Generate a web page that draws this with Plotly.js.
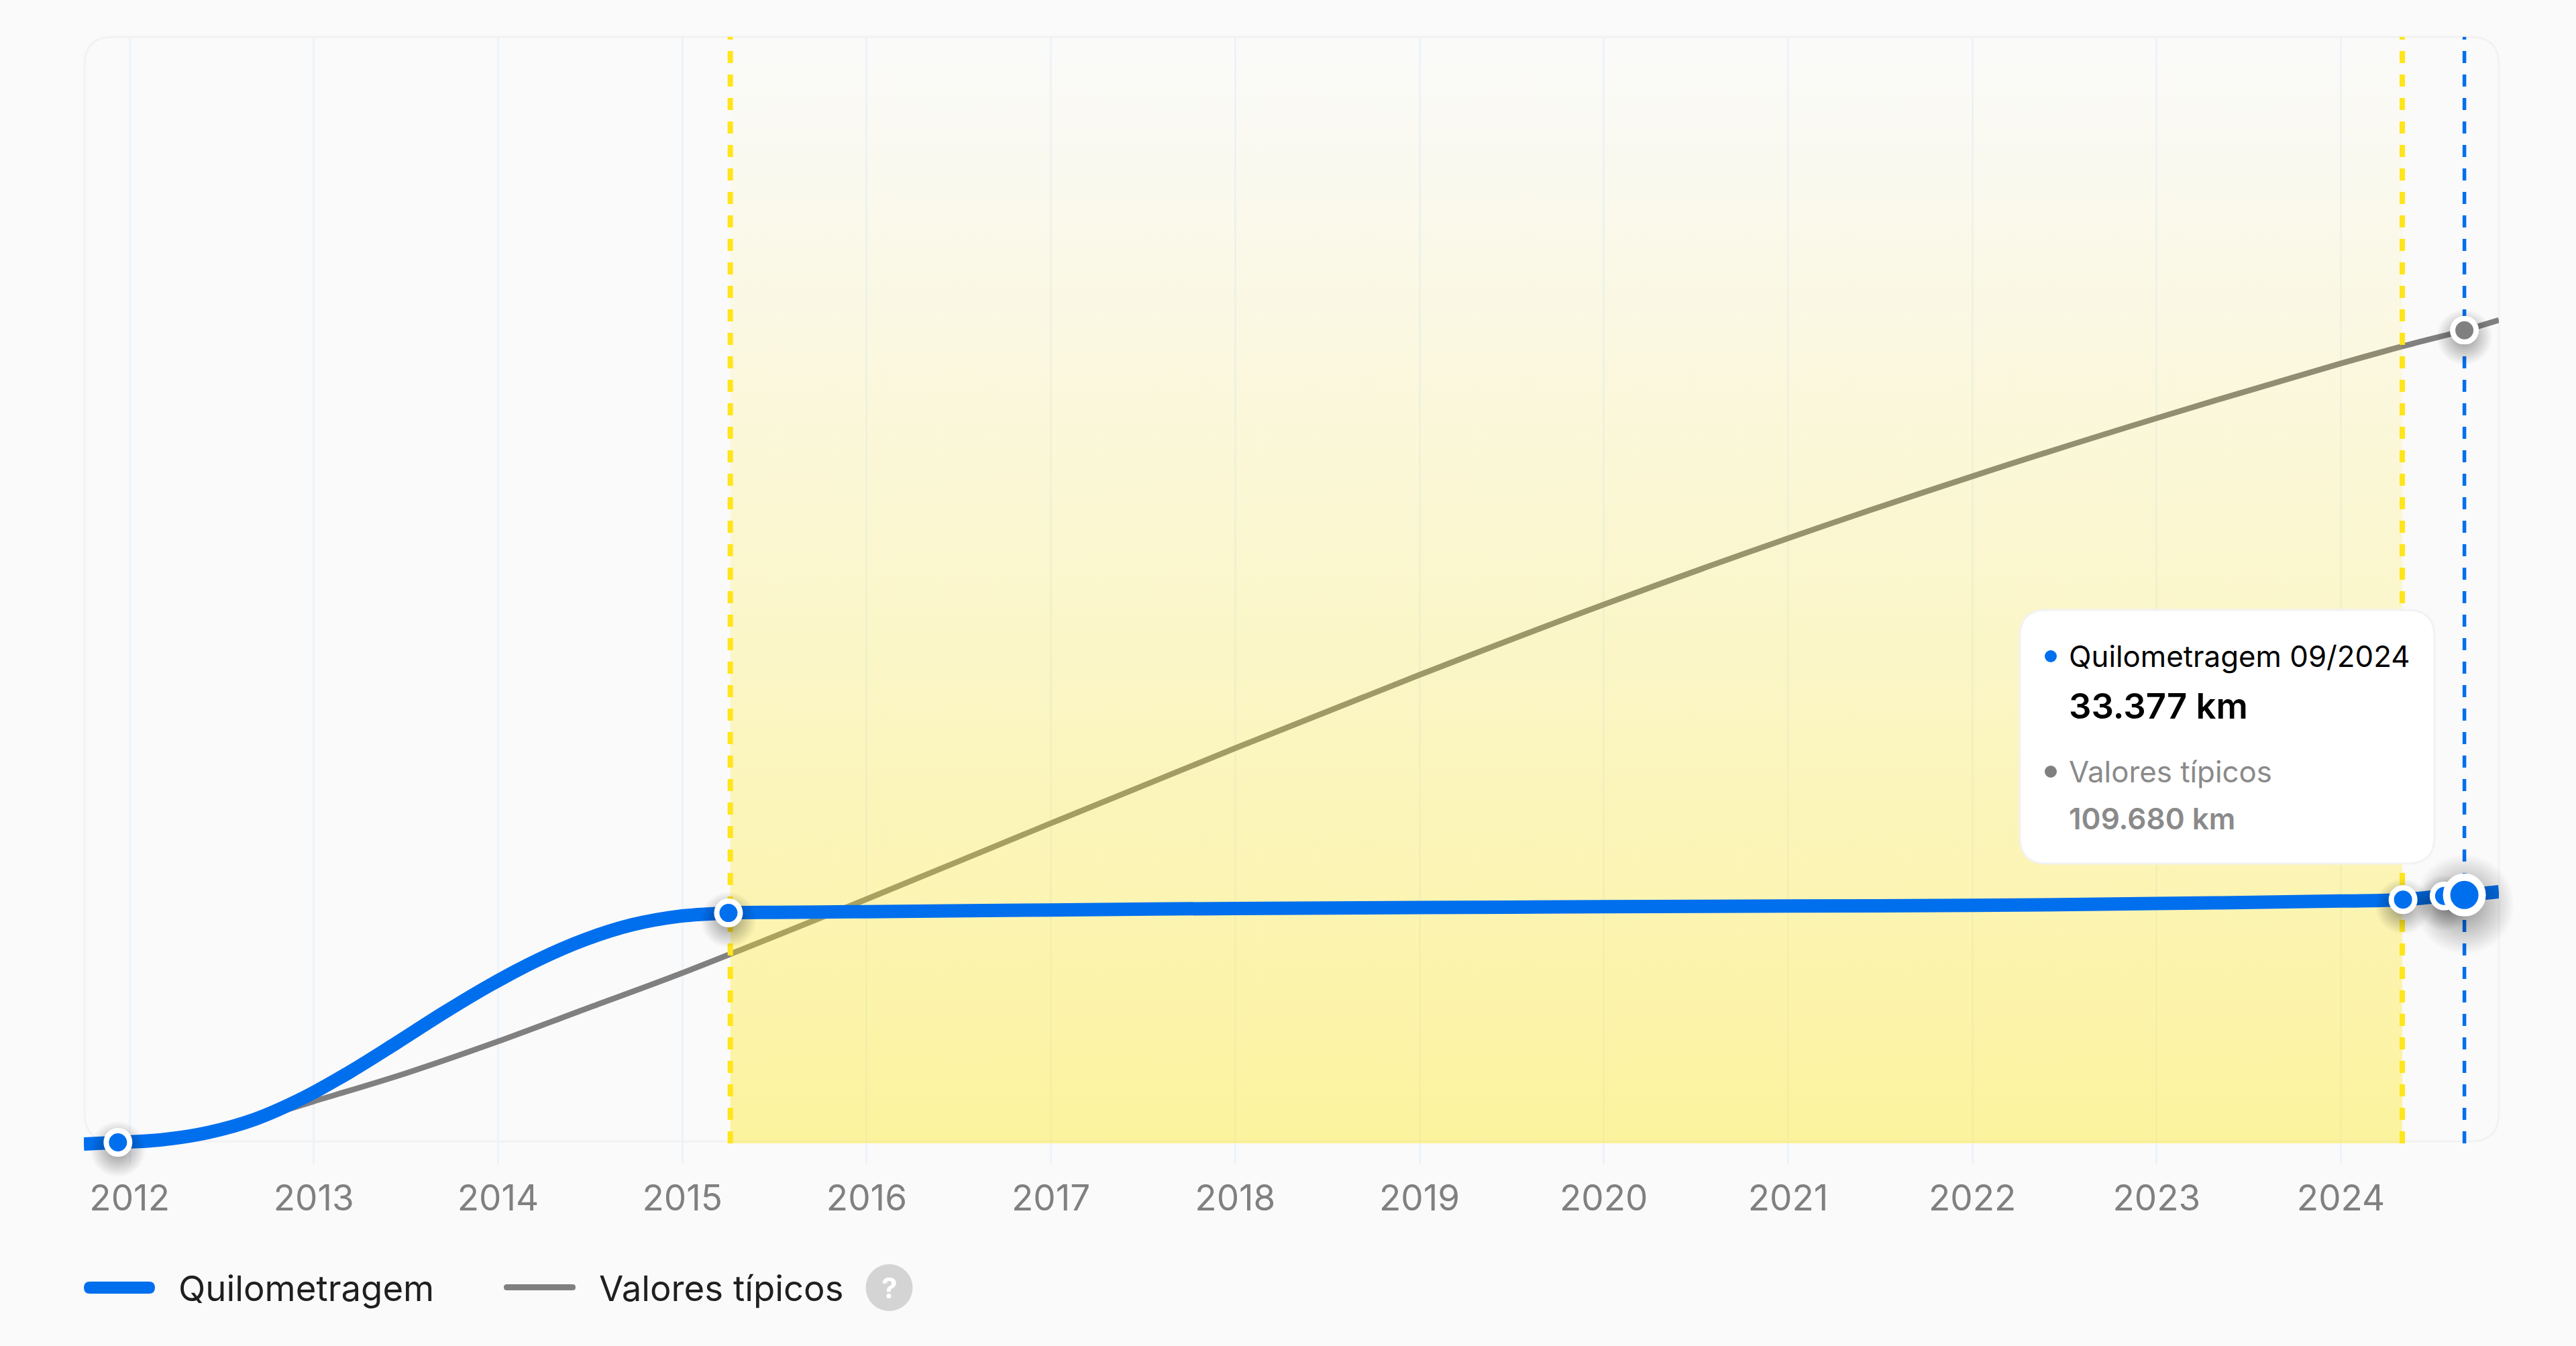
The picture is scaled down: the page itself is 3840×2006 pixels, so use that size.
<!DOCTYPE html>
<html lang="pt">
<head>
<meta charset="utf-8">
<script src="https://cdn.plot.ly/plotly-3.0.1.min.js"></script>
<style>
html,body{margin:0;padding:0;background:#fafafa;}
#chart{width:3840px;height:2006px;}
</style>
</head>
<body>
<div id="chart"></div>
<script>
// Axis
const yearTicks = [2012,2013,2014,2015,2016,2017,2018,2019,2020,2021,2022,2023,2024];
const xRange = [2011.752, 2024.857];
const yRange = [-2992, 149320];
const baselineKm = -181;

// Quilometragem series (year, km)
const mileageYears = [2011.752,2011.937,2012.172,2012.428,2012.683,2012.938,2013.194,2013.449,2013.704,2013.960,2014.215,2014.471,2014.726,2014.981,2015.25,2015.5,2015.75,2016,2017,2018,2019,2020,2021,2022,2023,2024,2024.337,2024.56,2024.67,2024.857];
const mileageKm = [-270,-50,300,1300,3100,5900,9450,13400,17450,21250,24600,27350,29350,30500,30950,31030,31075,31125,31350,31560,31680,31790,31880,31980,32220,32560,32755,33250,33377,33820];

// Valores típicos series (year, km)
const typicalYears = [2011.752,2011.937,2012.172,2012.428,2012.735,2013,2013.5,2014,2014.5,2015,2016,2017,2018,2019,2020,2021,2022,2023,2024,2024.337,2024.67,2024.857];
const typicalKm = [-270,-50,500,1650,3500,5500,9300,13600,18225,22850,32820,43070,53220,63120,72620,81570,89950,97800,105200,107530,109680,111060];

// Highlighted points
const markerYears = [2011.937,2015.25,2024.337,2024.56];
const markerKm = [-50,30950,32755,33250];
const currentYear = [2024.67];
const currentKm = [33377];
const currentTypicalKm = [109680];

// Highlighted period
const periodStart = 2015.26;
const periodEnd = 2024.333;

// Text
const legendLabels = ['Quilometragem','Valores típicos'];
const tooltipTitle = 'Quilometragem 09/2024';
const tooltipValue = '33.377 km';
const tooltipTypicalTitle = 'Valores típicos';
const tooltipTypicalValue = '109.680 km';

const BLUE='#006FEE', GRAY='#808080', YELLOW='#FFE51A', W=3840, H=2006;
const ml=125, mr=115, mt=55, mb=271;
const FONT='Inter, "Noto Sans", sans-serif';
const px=v=>(v-ml)/(W-ml-mr), py=v=>1-(v-mt)/(H-mt-mb);
const kmPerPx=(yRange[1]-yRange[0])/(H-mt-mb);

function rrect(x0,y0,x1,y1,r){
  const X=px, Y=py;
  return `M${X(x0+r)},${Y(y0)} L${X(x1-r)},${Y(y0)} Q${X(x1)},${Y(y0)} ${X(x1)},${Y(y0+r)} `+
         `L${X(x1)},${Y(y1-r)} Q${X(x1)},${Y(y1)} ${X(x1-r)},${Y(y1)} `+
         `L${X(x0+r)},${Y(y1)} Q${X(x0)},${Y(y1)} ${X(x0)},${Y(y1-r)} `+
         `L${X(x0)},${Y(y0+r)} Q${X(x0)},${Y(y0)} ${X(x0+r)},${Y(y0)} Z`;
}
function pshape(path,fill,line,width,layer){
  return {type:'path',xref:'paper',yref:'paper',path,fillcolor:fill,layer:layer||'above',
          line:{color:line||'rgba(0,0,0,0)',width:width||0}};
}
function circle(cx,cy,r,fill){
  return {type:'circle',xref:'paper',yref:'paper',x0:px(cx-r),x1:px(cx+r),y0:py(cy+r),y1:py(cy-r),
          fillcolor:fill,line:{width:0},layer:'above'};
}
function label(text,x,y,size,color,weight){
  return {xref:'paper',yref:'paper',x:px(x),y:py(y),text,showarrow:false,xanchor:'left',yanchor:'middle',
          font:{family:FONT,size,color,weight:weight||400},borderpad:0,borderwidth:0};
}
function glow(xs,ys,size,drop,alpha){
  return {x:xs,y:ys.map(v=>v-drop*kmPerPx),mode:'markers',cliponaxis:false,hoverinfo:'skip',
          marker:{size,color:'rgba(0,0,0,0)',gradient:{type:'radial',color:`rgba(0,0,0,${alpha})`},line:{width:0}}};
}

const traces=[
  {x:typicalYears,y:typicalKm,mode:'lines',name:legendLabels[1],cliponaxis:false,
   line:{color:GRAY,width:8.5,shape:'spline',smoothing:1},hoverinfo:'skip'},
  {x:[periodStart,periodEnd,periodEnd,periodStart],y:[baselineKm,baselineKm,yRange[1],yRange[1]],
   mode:'none',fill:'toself',hoverinfo:'skip',
   fillgradient:{type:'vertical',colorscale:[[0,'rgba(255,232,26,0.41)'],[1,'rgba(255,232,26,0)']]}},
  {x:[periodStart,periodStart],y:[baselineKm,yRange[1]],mode:'lines',hoverinfo:'skip',cliponaxis:false,
   line:{color:YELLOW,width:8,dash:'18px,17px'}},
  {x:[periodEnd,periodEnd],y:[baselineKm,yRange[1]],mode:'lines',hoverinfo:'skip',cliponaxis:false,
   line:{color:YELLOW,width:8,dash:'18px,17px'}},
  {x:[currentYear[0],currentYear[0]],y:[baselineKm,yRange[1]],mode:'lines',hoverinfo:'skip',cliponaxis:false,
   line:{color:BLUE,width:5.5,dash:'18px,17px'}},
  {x:mileageYears,y:mileageKm,mode:'lines',name:legendLabels[0],cliponaxis:false,
   line:{color:BLUE,width:20,shape:'spline',smoothing:1},hoverinfo:'skip'},
  glow(currentYear,currentTypicalKm,84,10,0.42),
  glow(markerYears,markerKm,84,10,0.42),
  glow(currentYear,currentKm,150,14,0.42),
  {x:currentYear,y:currentTypicalKm,mode:'markers',cliponaxis:false,hoverinfo:'skip',
   marker:{size:35,color:GRAY,line:{color:'#fff',width:8}}},
  {x:markerYears,y:markerKm,mode:'markers',cliponaxis:false,hoverinfo:'skip',
   marker:{size:35,color:BLUE,line:{color:'#fff',width:8}}},
  {x:currentYear,y:currentKm,mode:'markers',cliponaxis:false,hoverinfo:'skip',
   marker:{size:53,color:BLUE,line:{color:'#fff',width:11}}}
];

const layout={
  width:W,height:H,margin:{l:ml,r:mr,t:mt,b:mb,pad:0},
  paper_bgcolor:'#fafafa',plot_bgcolor:'rgba(0,0,0,0)',showlegend:false,
  xaxis:{type:'linear',range:xRange,tickmode:'array',tickvals:yearTicks,ticktext:yearTicks.map(String),
         showgrid:true,gridcolor:'#edf3fa',gridwidth:3,zeroline:false,showline:false,
         ticks:'outside',ticklen:4,tickcolor:'rgba(0,0,0,0)',tickwidth:1,
         tickfont:{family:FONT,size:53,color:'#808080'},automargin:false},
  yaxis:{range:yRange,showgrid:false,zeroline:false,showline:false,showticklabels:false,ticks:'',automargin:false},
  shapes:[
    pshape(rrect(126,55,3725,1701,42),'rgba(0,0,0,0)','#f2f2f2',3,'between'),
    {type:'rect',xref:'paper',yref:'paper',x0:0,x1:1,y0:py(1737),y1:py(1704),fillcolor:'#fafafa',line:{width:0},layer:'between'},
    pshape(rrect(3011,909,3629,1287,40),'#ffffff','#f2f2f2',3),
    circle(3057,978,9,BLUE),
    circle(3057,1150,9,GRAY),
    pshape(rrect(125,1910,231,1928,9),BLUE),
    pshape(rrect(751,1914,858,1923,4.5),GRAY),
    circle(1325.5,1919,35,'#d4d4d4')
  ],
  annotations:[
    label(legendLabels[0],266,1920,52.7,'#1f1f1f'),
    label(legendLabels[1],893,1920,52.7,'#1f1f1f'),
    {xref:'paper',yref:'paper',x:px(1325.5),y:py(1919),text:'?',showarrow:false,xanchor:'center',yanchor:'middle',
     font:{family:FONT,size:42,color:'#ffffff',weight:700}},
    label(tooltipTitle,3084,978,43.8,'#000000'),
    label(tooltipValue,3084,1052,52.6,'#000000',600),
    label(tooltipTypicalTitle,3084,1150,43.8,'#8a8a8a'),
    label(tooltipTypicalValue,3084,1220,44,'#8a8a8a',600)
  ]
};
Plotly.newPlot('chart',traces,layout,{displayModeBar:false,staticPlot:true});
</script>
</body>
</html>
